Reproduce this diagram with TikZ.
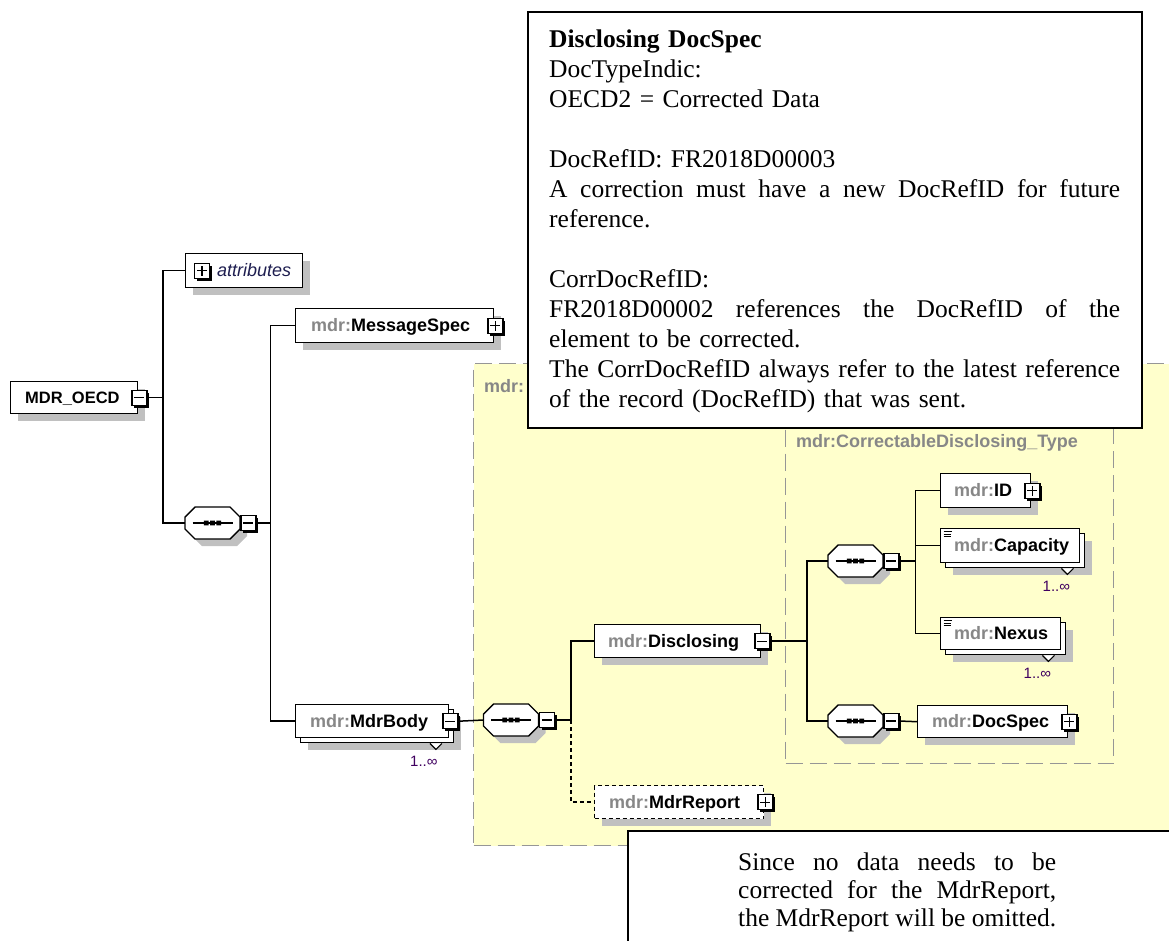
\documentclass[tikz,border=0pt]{standalone}
\usepackage{fontspec}
\setmainfont{Liberation Serif}
\setsansfont{Liberation Sans}
\usetikzlibrary{shadows}
\definecolor{yel}{RGB}{255,255,204}
\definecolor{rgngray}{RGB}{150,150,150}
\definecolor{shgray}{RGB}{192,192,192}
\definecolor{mdrgray}{RGB}{135,135,135}
\definecolor{multcol}{RGB}{64,0,96}
\definecolor{attrcol}{RGB}{30,30,80}
\newcommand\mdrlbl[1]{\textcolor{mdrgray}{mdr:}#1}
\newcommand\jline[2]{\leavevmode\hbox to #1{#2}}
\newcommand\seqoct[1]{%
  \fill[shgray,shift={(#1.center)},xshift=7pt,yshift=-7pt] (-27.5,-6) -- (-17.5,-16) -- (17.5,-16) -- (27.5,-6) -- (27.5,6) -- (17.5,16) -- (-17.5,16) -- (-27.5,6) -- cycle;
  \draw[line width=1.4pt,fill=white,shift={(#1.center)}] (-27.5,-6) -- (-17.5,-16) -- (17.5,-16) -- (27.5,-6) -- (27.5,6) -- (17.5,16) -- (-17.5,16) -- (-27.5,6) -- cycle;
  \draw[line width=1.3pt,shift={(#1.center)}] (-20,0) -- (20,0);
  \fill[black,shift={(#1.center)}] (-8.6,-2.4) rectangle ++(4.8,4.8) (-2.4,-2.4) rectangle ++(4.8,4.8) (3.8,-2.4) rectangle ++(4.8,4.8);
}
\tikzset{
  elshadow/.style={drop shadow={shadow xshift=7pt,shadow yshift=-7pt,fill=shgray,opacity=1}},
  elbase/.style={draw=black,line width=1.4pt,fill=white,rectangle,inner sep=0pt,anchor=north west,minimum height=33pt},
  elbox/.style={elbase,elshadow},
  elback/.style={elbase,elshadow},
  elfront/.style={elbase},
  eldash/.style={elbase,elshadow,dash pattern=on 4pt off 3pt},
  eltext/.style={font=\sffamily\bfseries\fontsize{18}{20}\selectfont,inner sep=0pt,anchor=base west},
  pmbox/.style={draw=black,line width=1.3pt,fill=white,rectangle,inner sep=0pt,minimum width=15pt,minimum height=15pt,
    drop shadow={shadow xshift=2.5pt,shadow yshift=-2.5pt,fill=black,opacity=1}},
  pmminus/.style={pmbox,path picture={\draw[line width=1.4pt] ([xshift=-5pt]path picture bounding box.center) -- ([xshift=5pt]path picture bounding box.center);}},
  pmplus/.style={pmbox,path picture={\draw[line width=1.4pt] ([xshift=-5pt]path picture bounding box.center) -- ([xshift=5pt]path picture bounding box.center) ([yshift=-5pt]path picture bounding box.center) -- ([yshift=5pt]path picture bounding box.center);}},
  seqnode/.style={rectangle,minimum width=55pt,minimum height=32pt,inner sep=0pt},
  conn/.style={draw=black,line width=1.5pt},
  conndash/.style={conn,dash pattern=on 4pt off 3pt},
  regionbox/.style={draw=rgngray,line width=1.4pt,dash pattern=on 17pt off 7pt,rectangle,inner sep=0pt,anchor=north west},
  regionlabel/.style={font=\sffamily\bfseries\fontsize{18}{20}\selectfont,text=mdrgray,inner sep=0pt,anchor=base west},
  multtext/.style={font=\sffamily\fontsize{15}{17}\selectfont,text=multcol,inner sep=0pt},
  notch/.style={draw=black,line width=1.1pt,fill=white},
  notebox/.style={draw=black,line width=1.8pt,fill=white,rectangle,inner sep=0pt,anchor=north west},
  notetext/.style={font=\rmfamily\fontsize{25.5}{30}\selectfont,inner sep=0pt,anchor=base west,align=left},
}
\begin{document}
\begin{tikzpicture}[x=1pt,y=-1pt]
\useasboundingbox (0,0) rectangle (1169,940);
\clip (0,0) rectangle (1169,940);
\fill[white] (0,0) rectangle (1169,940);

% regions
\node[regionbox,fill=yel,minimum width=740pt,minimum height=482pt] (bodytype) at (473,363) {};
\node[regionlabel] (bodylbl) at (484,392) {mdr:};
\node[regionbox,minimum width=328pt,minimum height=343pt] (cdtype) at (785,420) {};
\node[regionlabel] (cdlbl) at (796,447) {mdr:CorrectableDisclosing\_Type};

% root
\node[elbox,minimum width=127pt,minimum height=32pt] (root) at (10,381) {};
\node[eltext,font=\sffamily\bfseries\fontsize{16.5}{18}\selectfont] (rootT) at (25,403.5) {MDR\_OECD};
\node[pmminus] (pm0) at ([xshift=1pt]root.east) {};

% attributes
\node[elbox,minimum width=117pt,minimum height=34pt] (attr) at (185,253) {};
\node[pmplus] (pmA) at ([xshift=17pt]attr.west) {};
\node[eltext,font=\sffamily\itshape\fontsize{18}{20}\selectfont,text=attrcol] (attrT) at (217,276.5) {attributes};

% sequence 1
\node[seqnode] (seq1) at (212.5,523) {};
\seqoct{seq1}
\node[pmminus,anchor=west] (pmS1) at (seq1.east) {};

% MessageSpec
\node[elbox,minimum width=198pt,minimum height=34pt] (ms) at (295,308) {};
\node[eltext] (msT) at (311,331.5) {\mdrlbl{MessageSpec}};
\node[pmplus] (pmMS) at ([xshift=1pt]ms.east) {};

% MdrBody (stacked)
\node[elback,minimum width=153pt] (mbB) at (300,709) {};
\node[elfront,minimum width=153pt] (mb) at (295,704) {};
\node[eltext] (mbT) at (310,727) {\mdrlbl{MdrBody}};
\node[pmminus] (pmMB) at ([xshift=1pt]mb.east) {};
\draw[notch] ([xshift=-24.5pt]mbB.south east) -- ++(6,6) -- ++(6,-6);
\node[multtext] (mbM) at ([shift={(-30.5,18)}]mbB.south east) {1..∞};

% sequence 2
\node[seqnode] (seq2) at (511,720) {};
\seqoct{seq2}
\node[pmminus,anchor=west] (pmS2) at (seq2.east) {};

% Disclosing
\node[elbox,minimum width=166pt] (dis) at (594,624) {};
\node[eltext] (disT) at (608,647.5) {\mdrlbl{Disclosing}};
\node[pmminus] (pmDis) at ([xshift=1pt]dis.east) {};

% MdrReport
\node[eldash,minimum width=169pt] (rep) at (594,785) {};
\node[eltext] (repT) at (609,808) {\mdrlbl{MdrReport}};
\node[pmplus] (pmRep) at ([xshift=1pt]rep.east) {};

% sequence 3
\node[seqnode] (seq3) at (855.5,561) {};
\seqoct{seq3}
\node[pmminus,anchor=west] (pmS3) at (seq3.east) {};

% ID
\node[elbox,minimum width=90pt,minimum height=34pt] (id) at (940,473) {};
\node[eltext] (idT) at (954,496.5) {\mdrlbl{ID}};
\node[pmplus] (pmID) at ([xshift=1pt]id.east) {};

% Capacity (stacked)
\node[elback,minimum width=139pt,minimum height=34pt] (capB) at (945,533) {};
\node[elfront,minimum width=139pt,minimum height=34pt] (cap) at (940,528) {};
\node[eltext] (capT) at (954,551.5) {\mdrlbl{Capacity}};
\draw[line width=0.9pt] ([shift={(3.5,3.5)}]cap.north west) -- ++(8,0)
  ([shift={(3.5,6)}]cap.north west) -- ++(7,0)
  ([shift={(3.5,8.5)}]cap.north west) -- ++(7,0);
\draw[notch] ([xshift=-24pt]capB.south east) -- ++(6,6) -- ++(6,-6);
\node[multtext] (capM) at ([shift={(-29,18)}]capB.south east) {1..∞};

% Nexus (stacked)
\node[elback,minimum width=120pt,minimum height=32pt] (nexB) at (945,622) {};
\node[elfront,minimum width=120pt,minimum height=32pt] (nex) at (940,617) {};
\node[eltext] (nexT) at (954,639.5) {\mdrlbl{Nexus}};
\draw[line width=0.9pt] ([shift={(3.5,3.5)}]nex.north west) -- ++(8,0)
  ([shift={(3.5,6)}]nex.north west) -- ++(7,0)
  ([shift={(3.5,8.5)}]nex.north west) -- ++(7,0);
\draw[notch] ([xshift=-24pt]nexB.south east) -- ++(6,6) -- ++(6,-6);
\node[multtext] (nexM) at ([shift={(-29,18)}]nexB.south east) {1..∞};

% sequence 4
\node[seqnode] (seq4) at (855.5,721) {};
\seqoct{seq4}
\node[pmminus,anchor=west] (pmS4) at (seq4.east) {};

% DocSpec
\node[elbox,minimum width=150pt,minimum height=32pt] (ds) at (917,705) {};
\node[eltext] (dsT) at (932,727.5) {\mdrlbl{DocSpec}};
\node[pmplus] (pmDS) at ([xshift=1pt]ds.east) {};

% connectors
\draw[conn] (pm0.east) -- ++(15.5,0) |- (attr.west);
\draw[conn] (pm0.east) -- ++(15.5,0) |- (seq1.west);
\draw[conn] (pmS1.east) -- ++(14,0) |- (ms.west);
\draw[conn] (pmS1.east) -- ++(14,0) |- (mb.west);
\draw[conn] (pmMB.east) -- (seq2.west);
\draw[conn] (pmS2.east) -- ++(16,0) |- (dis.west);
\draw[conndash] ([xshift=16pt]pmS2.east) |- (rep.west);
\draw[conn] (pmDis.east) -- ++(36.5,0) |- (seq3.west);
\draw[conn] (pmDis.east) -- ++(36.5,0) |- (seq4.west);
\draw[conn] (pmS3.east) -- ++(16,0) |- (id.west);
\draw[conn] (pmS3.east) -- ++(16,0) |- (cap.west);
\draw[conn] (pmS3.east) -- ++(16,0) |- (nex.west);
\draw[conn] (pmS4.east) -- (ds.west);

% notes
\node[notebox,minimum width=614pt,minimum height=416pt] (note1) at (527,11) {};
\node[notetext,text width=571pt] (note1T) at (549,47) {%
\textbf{Disclosing DocSpec}\\
DocTypeIndic:\\
OECD2 = Corrected Data\\
\mbox{}\\
DocRefID: FR2018D00003\\
\jline{571pt}{A\hfill correction\hfill must\hfill have\hfill a\hfill new\hfill DocRefID\hfill for\hfill future}\\
reference.\\
\mbox{}\\
CorrDocRefID:\\
\jline{571pt}{FR2018D00002\hfill references\hfill the\hfill DocRefID\hfill of\hfill the}\\
element to be corrected.\\
\jline{571pt}{The\hfill CorrDocRefID\hfill always\hfill refer\hfill to\hfill the\hfill latest\hfill reference}\\
of the record (DocRefID) that was sent.};

\node[notebox,minimum width=600pt,minimum height=150pt] (note2) at (627,830) {};
\node[notetext,font=\rmfamily\fontsize{25.5}{28}\selectfont,text width=318pt] (note2T) at (738,870) {%
\jline{318pt}{Since\hfill no\hfill data\hfill needs\hfill to\hfill be}\\
\jline{318pt}{corrected\hfill for\hfill the\hfill MdrReport,}\\
\jline{318pt}{the\hfill MdrReport\hfill will\hfill be\hfill omitted.}};
\end{tikzpicture}
\end{document}
